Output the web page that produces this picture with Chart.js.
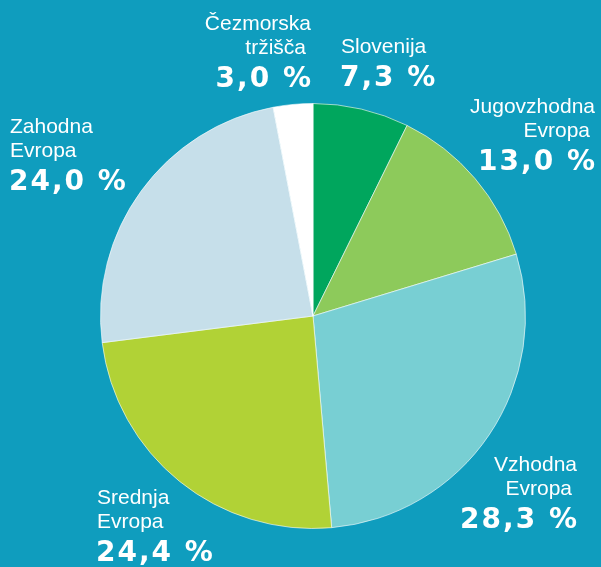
<!DOCTYPE html>
<html>
<head>
<meta charset="utf-8">
<script src="https://cdn.jsdelivr.net/npm/chart.js@4"></script>
<style>
  html, body { margin: 0; padding: 0; background: #0f9dbe; }
  #wrap { width: 601px; height: 567px; }
</style>
</head>
<body>
<div id="wrap"><canvas id="pieChart" width="601" height="567"></canvas></div>
<script>
const regions = ['Slovenija', 'Jugovzhodna Evropa', 'Vzhodna Evropa', 'Srednja Evropa', 'Zahodna Evropa', 'Čezmorska tržišča'];
const shares = [7.3, 13.0, 28.3, 24.4, 24.0, 3.0];
const sliceColors = ['#00a65d', '#8dca5b', '#78cfd3', '#b1d236', '#c6dfea', '#ffffff'];

// label lines for each region: [name lines], value text
const labelLines = [
    ['Slovenija'],
    ['Jugovzhodna', 'Evropa'],
    ['Vzhodna', 'Evropa'],
    ['Srednja', 'Evropa'],
    ['Zahodna', 'Evropa'],
    ['Čezmorska', 'tržišča']
];

function fmt(v) {
    return v.toFixed(1).replace('.', ',') + ' %';
}

// where the label block sits: x, align, baseline of the first line
const labelPlace = [
    { x: 341, align: 'left', y: 53 },
    { x: 595, align: 'right', y: 113 },
    { x: 577, align: 'right', y: 471 },
    { x: 97, align: 'left', y: 504 },
    { x: 10, align: 'left', y: 133 },
    { x: 311, align: 'right', y: 30 }
];

const labelPlugin = {
    id: 'outerLabels',
    afterDraw(chart) {
        const ctx = chart.ctx;
        ctx.save();
        ctx.fillStyle = '#ffffff';
        ctx.textBaseline = 'alphabetic';
        labelLines.forEach((lines, i) => {
            const p = labelPlace[i];
            ctx.textAlign = p.align;
            ctx.font = '21px "Liberation Sans", Arial, sans-serif';
            ctx.letterSpacing = '0px';
            let y = p.y;
            lines.forEach((t, k) => {
                let x = p.x;
                if (p.align === 'right' && k > 0 && lines.length > 1) x -= 5;
                ctx.fillText(t, x, y);
                y += 24;
            });
            ctx.font = 'bold 28px "DejaVu Sans", sans-serif';
            ctx.letterSpacing = '2px';
            ctx.fillText(fmt(shares[i]), p.x + (p.align === 'right' ? 2 : -1), y + 9);
        });
        ctx.restore();
    }
};

new Chart(document.getElementById('pieChart').getContext('2d'), {
    type: 'pie',
    data: {
        labels: regions,
        datasets: [{
            data: shares,
            backgroundColor: sliceColors,
            borderColor: 'rgba(255,255,255,0.6)',
            borderWidth: 1
        }]
    },
    options: {
        responsive: false,
        animation: false,
        layout: { padding: { left: 100, right: 75, top: 103, bottom: 38 } },
        plugins: {
            legend: { display: false },
            tooltip: { enabled: false }
        }
    },
    plugins: [labelPlugin]
});
</script>
</body>
</html>
